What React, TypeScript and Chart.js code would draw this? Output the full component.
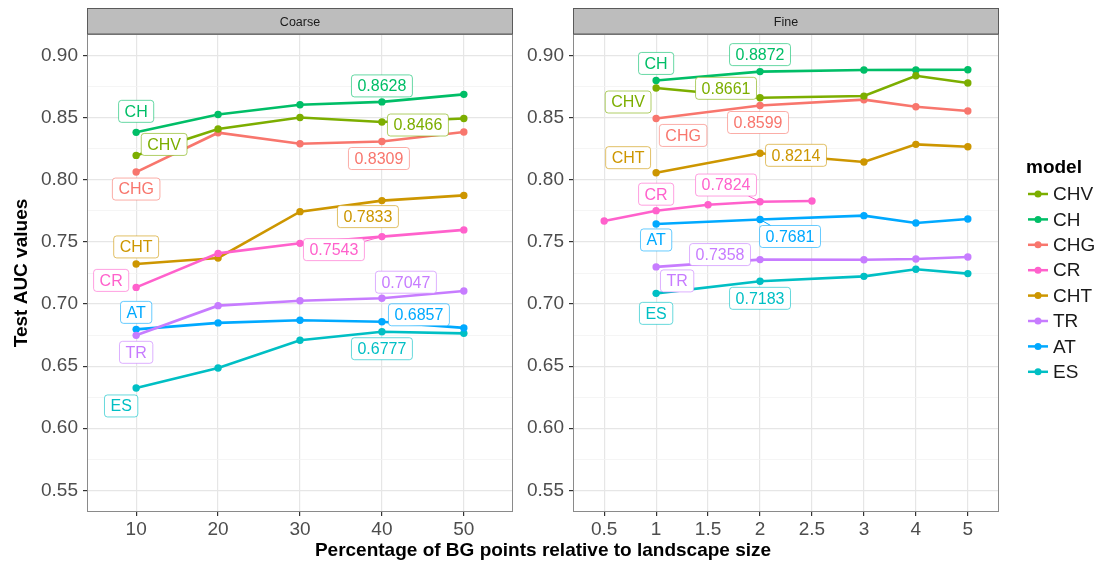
import React, { useEffect, useRef } from "react";
import { Chart, registerables } from "chart.js";

Chart.register(...registerables);

const FONT = "'Liberation Sans', Arial, Helvetica, sans-serif";

// Model order used by the legend and the series arrays below
const models = ["CHV", "CH", "CHG", "CR", "CHT", "TR", "AT", "ES"];
const modelColors = ["#7CAE00", "#00BE67", "#F8766D", "#FF61CC", "#CD9600", "#C77CFF", "#00A9FF", "#00BFC4"];

// Coarse panel: percentage of BG points
const coarseCategories = ["10", "20", "30", "40", "50"];
const coarseCHV = [0.8197, 0.841, 0.8503, 0.8466, 0.8495];
const coarseCH = [0.8383, 0.8527, 0.8605, 0.8628, 0.8689];
const coarseCHG = [0.8063, 0.838, 0.8291, 0.8309, 0.8386];
const coarseCR = [0.7134, 0.7408, 0.7489, 0.7543, 0.7597];
const coarseCHT = [0.7323, 0.7371, 0.7744, 0.7833, 0.7875];
const coarseTR = [0.6748, 0.6987, 0.7027, 0.7047, 0.7105];
const coarseAT = [0.6796, 0.6848, 0.6869, 0.6857, 0.6808];
const coarseES = [0.6324, 0.6485, 0.6708, 0.6777, 0.6764];

// Fine panel: percentage of BG points (null = not evaluated)
const fineCategories = ["0.5", "1", "1.5", "2", "2.5", "3", "4", "5"];
const fineCHV = [null, 0.874, null, 0.8661, null, 0.8675, 0.8839, 0.878];
const fineCH = [null, 0.8801, null, 0.8872, null, 0.8885, 0.8886, 0.8887];
const fineCHG = [null, 0.8495, null, 0.8599, null, 0.8646, 0.8589, 0.8555];
const fineCR = [0.7669, 0.7752, 0.78, 0.7824, 0.783, null, null, null];
const fineCHT = [null, 0.8058, null, 0.8214, null, 0.8144, 0.8286, 0.8267];
const fineTR = [null, 0.7299, null, 0.7358, null, 0.7357, 0.7363, 0.7379];
const fineAT = [null, 0.7645, null, 0.7681, null, 0.7712, 0.7653, 0.7685];
const fineES = [null, 0.7086, null, 0.7183, null, 0.7223, 0.728, 0.7245];

// Y axis ticks
const yMajorTicks = [0.55, 0.6, 0.65, 0.7, 0.75, 0.8, 0.85, 0.9];
const yMinorTicks = [0.575, 0.625, 0.675, 0.725, 0.775, 0.825, 0.875];
const yMin = 0.5325;
const yMax = 0.9175;

const coarseSeries = [coarseCHV, coarseCH, coarseCHG, coarseCR, coarseCHT, coarseTR, coarseAT, coarseES];
const fineSeries = [fineCHV, fineCH, fineCHG, fineCR, fineCHT, fineTR, fineAT, fineES];

// Label placement (pixel nudges from the labelled point), model order
const coarseNameNudge = [[28, -11], [0, -21], [0, 17], [-25, -7], [0, -17], [0, 17], [0, -17], [-15, 18]];
const coarseValueNudge = [[36, 3], [0, -16], [-3, 17], [-48, 13], [-14, 16], [24, -16], [37, -7], [0, 17]];
const fineNameNudge = [[-28, 14], [0, -17], [27, 17], [0, -16.5], [-28, -15], [21, 14], [0, 16], [0, 20]];
const fineValueNudge = [[-34, -9.5], [0, -17], [-2, 17], [-34, -16.7], [36, 2], [-40, -5], [30, 17], [0, 17]];

function hexAlpha(hex: string, a: number) {
  const n = parseInt(hex.slice(1), 16);
  return `rgba(${(n >> 16) & 255},${(n >> 8) & 255},${n & 255},${a})`;
}

function isMajor(v: number) {
  return yMajorTicks.some((t) => Math.abs(t - v) < 1e-6);
}

function drawTag(ctx: CanvasRenderingContext2D, text: string, cx: number, cy: number, color: string, px: number, py: number) {
  ctx.save();
  ctx.font = `16px ${FONT}`;
  const w = ctx.measureText(text).width + 12;
  const h = 22;
  const hw = w / 2;
  const hh = h / 2;
  // connector from point toward the tag, clipped at the tag edge
  const dx = px - cx;
  const dy = py - cy;
  const t = Math.min(dx === 0 ? Infinity : hw / Math.abs(dx), dy === 0 ? Infinity : hh / Math.abs(dy));
  if (t < 1) {
    const ex = cx + dx * t;
    const ey = cy + dy * t;
    if (Math.hypot(px - ex, py - ey) > 12) {
      ctx.strokeStyle = color;
      ctx.lineWidth = 1;
      ctx.beginPath();
      ctx.moveTo(px, py);
      ctx.lineTo(ex, ey);
      ctx.stroke();
    }
  }
  ctx.beginPath();
  ctx.roundRect(cx - hw, cy - hh, w, h, 3);
  ctx.fillStyle = "#ffffff";
  ctx.fill();
  ctx.strokeStyle = hexAlpha(color, 0.6);
  ctx.lineWidth = 1;
  ctx.stroke();
  ctx.fillStyle = color;
  ctx.textAlign = "center";
  ctx.textBaseline = "middle";
  ctx.fillText(text, cx, cy + 1);
  ctx.restore();
}

type PanelSpec = {
  title: string;
  categories: string[];
  series: (number | null)[][];
  nameIndex: number;
  valueIndex: number;
  nameNudge: number[][];
  valueNudge: number[][];
  yTitle: string | null;
  yWidth: number;
  padRight: number;
  legend: boolean;
};

function makePanel(canvas: HTMLCanvasElement, spec: PanelSpec) {
  const decor = {
    id: "panelDecor",
    afterDatasetsDraw(chart: any) {
      const ctx: CanvasRenderingContext2D = chart.ctx;
      const xs = chart.scales.x;
      const ys = chart.scales.y;
      const area = chart.chartArea;
      // name and value tags
      spec.series.forEach((vals, i) => {
        const color = modelColors[i];
        const nv = vals[spec.nameIndex] as number;
        const vv = vals[spec.valueIndex] as number;
        const npx = xs.getPixelForValue(spec.nameIndex);
        const npy = ys.getPixelForValue(nv);
        drawTag(ctx, models[i], npx + spec.nameNudge[i][0], npy + spec.nameNudge[i][1], color, npx, npy);
        const vpx = xs.getPixelForValue(spec.valueIndex);
        const vpy = ys.getPixelForValue(vv);
        drawTag(ctx, vv.toFixed(4), vpx + spec.valueNudge[i][0], vpy + spec.valueNudge[i][1], color, vpx, vpy);
      });
      // panel border
      ctx.save();
      ctx.strokeStyle = "#8a8a8a";
      ctx.lineWidth = 1;
      ctx.strokeRect(area.left + 0.5, area.top + 0.5, area.right - area.left - 1, area.bottom - area.top - 1);
      // strip
      const stripTop = 8.5;
      ctx.fillStyle = "#bdbdbd";
      ctx.fillRect(area.left + 0.5, stripTop, area.right - area.left - 1, area.top - stripTop);
      ctx.strokeStyle = "#5a5a5a";
      ctx.strokeRect(area.left + 0.5, stripTop, area.right - area.left - 1, area.top - stripTop);
      ctx.fillStyle = "#1a1a1a";
      ctx.font = `12.5px ${FONT}`;
      ctx.textAlign = "center";
      ctx.textBaseline = "middle";
      ctx.fillText(spec.title, (area.left + area.right) / 2, (stripTop + area.top) / 2 + 1);
      ctx.restore();

      if (spec.legend) {
        ctx.save();
        const lx = area.right + 27;
        ctx.fillStyle = "#000000";
        ctx.font = `bold 19px ${FONT}`;
        ctx.textAlign = "left";
        ctx.textBaseline = "middle";
        ctx.fillText("model", lx, 168);
        models.forEach((m, i) => {
          const y = 194 + i * 25.4;
          ctx.strokeStyle = modelColors[i];
          ctx.lineWidth = 2.5;
          ctx.beginPath();
          ctx.moveTo(lx + 2, y);
          ctx.lineTo(lx + 22, y);
          ctx.stroke();
          ctx.fillStyle = modelColors[i];
          ctx.beginPath();
          ctx.arc(lx + 12, y, 3.5, 0, Math.PI * 2);
          ctx.fill();
          ctx.fillStyle = "#1a1a1a";
          ctx.font = `19px ${FONT}`;
          ctx.fillText(m, lx + 27, y + 1);
        });
        ctx.restore();
      }
    },
  };

  const datasets = spec.series.map((vals, i) => ({
    label: models[i],
    data: vals
      .map((v, j) => (v === null ? null : { x: j, y: v }))
      .filter((p) => p !== null),
    borderColor: modelColors[i],
    backgroundColor: modelColors[i],
    borderWidth: 2.6,
    pointRadius: 3.7,
    pointHoverRadius: 3.7,
    pointBorderWidth: 0,
    tension: 0,
  }));

  const n = spec.categories.length;

  return new Chart(canvas, {
    type: "line",
    data: { datasets: datasets as any },
    plugins: [decor],
    options: {
      animation: false,
      responsive: false,
      events: [],
      layout: { padding: { top: 34, right: spec.padRight, bottom: 5, left: 0 } },
      plugins: { legend: { display: false }, tooltip: { enabled: false } },
      scales: {
        x: {
          type: "linear",
          min: -0.6,
          max: n - 1 + 0.6,
          afterBuildTicks: (scale: any) => {
            scale.ticks = spec.categories.map((_, i) => ({ value: i }));
          },
          afterFit: (scale: any) => {
            scale.height = 28;
          },
          grid: { color: "#e6e6e6", lineWidth: 1.2, tickLength: 4, tickColor: "#333333" },
          border: { display: false },
          ticks: {
            autoSkip: false,
            maxRotation: 0,
            padding: 2,
            color: "#4d4d4d",
            font: { family: FONT, size: 19 },
            callback: (v: any) => spec.categories[Math.round(v)] ?? "",
          },
        },
        y: {
          type: "linear",
          min: yMin,
          max: yMax,
          afterBuildTicks: (scale: any) => {
            scale.ticks = [...yMajorTicks, ...yMinorTicks].sort((a, b) => a - b).map((v) => ({ value: v }));
          },
          afterFit: (scale: any) => {
            scale.width = spec.yWidth;
          },
          title: spec.yTitle
            ? {
                display: true,
                text: spec.yTitle,
                color: "#000000",
                font: { family: FONT, size: 19, weight: "bold" },
                padding: { top: 10, bottom: 0 },
              }
            : { display: false },
          grid: {
            color: (c: any) => (isMajor(c.tick.value) ? "#e6e6e6" : "#f2f2f2"),
            lineWidth: (c: any) => (isMajor(c.tick.value) ? 1.2 : 0.8),
            tickLength: 4,
            tickColor: (c: any) => (isMajor(c.tick.value) ? "#333333" : "rgba(0,0,0,0)"),
          },
          border: { display: false },
          ticks: {
            autoSkip: false,
            padding: 5,
            color: "#4d4d4d",
            font: { family: FONT, size: 19 },
            callback: (v: any) => (isMajor(v) ? Number(v).toFixed(2) : ""),
          },
        },
      },
    } as any,
  });
}

export default function App() {
  const leftRef = useRef<HTMLCanvasElement>(null);
  const rightRef = useRef<HTMLCanvasElement>(null);

  useEffect(() => {
    const left = makePanel(leftRef.current!, {
      title: "Coarse",
      categories: coarseCategories,
      series: coarseSeries,
      nameIndex: 0,
      valueIndex: 3,
      nameNudge: coarseNameNudge,
      valueNudge: coarseValueNudge,
      yTitle: "Test AUC values",
      yWidth: 87,
      padRight: 7,
      legend: false,
    });
    const right = makePanel(rightRef.current!, {
      title: "Fine",
      categories: fineCategories,
      series: fineSeries,
      nameIndex: 1,
      valueIndex: 3,
      nameNudge: fineNameNudge,
      valueNudge: fineValueNudge,
      yTitle: null,
      yWidth: 53,
      padRight: 103,
      legend: true,
    });
    return () => {
      left.destroy();
      right.destroy();
    };
  }, []);

  return (
    <div style={{ position: "absolute", left: 0, top: 0, width: 1102, height: 568, background: "#ffffff", overflow: "hidden" }}>
      <canvas ref={leftRef} width={520} height={545} style={{ position: "absolute", left: 0, top: 0, width: 520, height: 545 }} />
      <canvas ref={rightRef} width={582} height={545} style={{ position: "absolute", left: 520, top: 0, width: 582, height: 545 }} />
      <div
        style={{
          position: "absolute",
          left: 87,
          width: 912,
          top: 539,
          lineHeight: "22px",
          textAlign: "center",
          fontFamily: FONT,
          fontWeight: "bold",
          fontSize: 19,
          color: "#000000",
        }}
      >
        Percentage of BG points relative to landscape size
      </div>
    </div>
  );
}
